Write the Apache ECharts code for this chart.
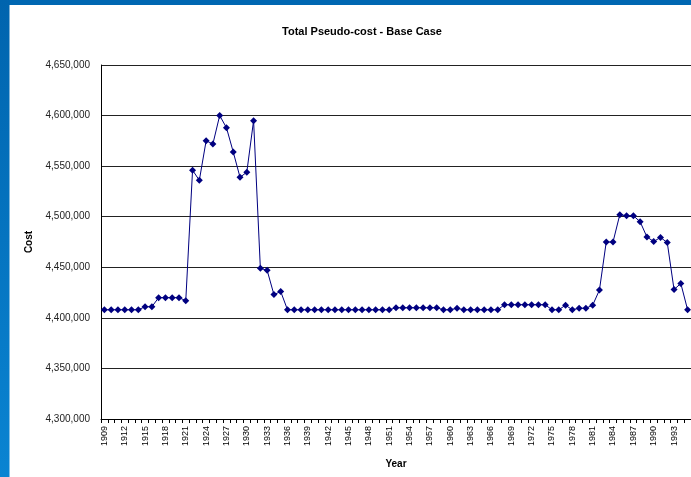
<!DOCTYPE html>
<html>
<head>
<meta charset="utf-8">
<script src="https://cdn.jsdelivr.net/npm/echarts@6/dist/echarts.min.js"></script>
<style>
  html, body { margin: 0; padding: 0; background: #ffffff; }
  #chart { width: 691px; height: 477px; }
</style>
</head>
<body>
<div id="chart"></div>
<script>
// Years on the category axis
const years = [];
for (let y = 1909; y <= 1995; y++) years.push(String(y));

// Total pseudo-cost per year (base case)
const totalCost = [
  4408000, 4408000, 4408000, 4408000, 4408000, 4408000, 4411000, 4411000, 4420000, 4420000, // 1909-1918
  4420000, 4420000, 4417000, 4546000, 4536000, 4575000, 4572000, 4600000, 4588000, 4564000, // 1919-1928
  4539000, 4544000, 4595000, 4449000, 4447000, 4423000, 4426000, 4408000, 4408000, 4408000, // 1929-1938
  4408000, 4408000, 4408000, 4408000, 4408000, 4408000, 4408000, 4408000, 4408000, 4408000, // 1939-1948
  4408000, 4408000, 4408000, 4410000, 4410000, 4410000, 4410000, 4410000, 4410000, 4410000, // 1949-1958
  4408000, 4408000, 4409500, 4408000, 4408000, 4408000, 4408000, 4408000, 4408000, 4413000, // 1959-1968
  4413000, 4413000, 4413000, 4413000, 4413000, 4413000, 4408000, 4408000, 4412500, 4408000, // 1969-1978
  4409500, 4409500, 4412500, 4427500, 4475000, 4475000, 4502000, 4501000, 4501000, 4495000, // 1979-1988
  4480000, 4475500, 4479500, 4474500, 4428000, 4434000, 4408000                             // 1989-1995
];

// Value axis range and step
const yMin = 4300000;
const yMax = 4650000;
const yStep = 50000;

const chart = echarts.init(document.getElementById('chart'), null, { renderer: 'canvas' });
const fontFamily = 'Arial, "Liberation Sans", sans-serif';

chart.setOption({
  animation: false,
  backgroundColor: '#ffffff',
  graphic: [
    // slide frame: top and left blue bands
    {
      type: 'rect', left: 0, top: 0, z: 10,
      shape: { width: 691, height: 5 },
      style: { fill: '#0067b2' }
    },
    {
      type: 'rect', left: 0, top: 0, z: 10,
      shape: { width: 9.5, height: 477 },
      style: {
        fill: new echarts.graphic.LinearGradient(0, 0, 0, 1, [
          { offset: 0, color: '#0064ae' },
          { offset: 1, color: '#0a84d2' }
        ])
      }
    }
  ],
  title: {
    text: 'Total Pseudo-cost - Base Case',
    left: 357,
    textAlign: 'center',
    top: 21,
    textStyle: { fontFamily, fontSize: 11, fontWeight: 'bold', color: '#000' }
  },
  grid: { left: 101, top: 65, bottom: 58, right: -2, containLabel: false },
  xAxis: {
    type: 'category',
    data: years,
    boundaryGap: true,
    name: 'Year',
    nameLocation: 'middle',
    nameGap: 40,
    nameTextStyle: { fontFamily, fontSize: 10, fontWeight: 'bold', color: '#000' },
    axisLine: { show: true, lineStyle: { color: '#000', width: 1 } },
    axisTick: { show: true, interval: 0, length: 4, inside: false, lineStyle: { color: '#000' } },
    axisLabel: {
      interval: 2,
      rotate: 90,
      margin: 7,
      fontFamily, fontSize: 9, color: '#000'
    },
    splitLine: { show: false }
  },
  yAxis: {
    type: 'value',
    min: yMin,
    max: yMax,
    interval: yStep,
    name: 'Cost',
    nameLocation: 'middle',
    nameRotate: 90,
    nameGap: 64,
    nameTextStyle: { fontFamily, fontSize: 10, fontWeight: 'bold', color: '#000' },
    axisLine: { show: true, lineStyle: { color: '#000', width: 1 } },
    axisTick: { show: false },
    axisLabel: {
      margin: 11,
      fontFamily, fontSize: 10, color: '#222',
      formatter: v => v.toLocaleString('en-US')
    },
    splitLine: { show: true, lineStyle: { color: '#222', width: 1 } }
  },
  series: [{
    type: 'line',
    data: totalCost,
    symbol: 'diamond',
    symbolSize: 7,
    showAllSymbol: true,
    lineStyle: { color: '#000080', width: 1 },
    itemStyle: { color: '#000080' }
  }]
});
</script>
</body>
</html>
